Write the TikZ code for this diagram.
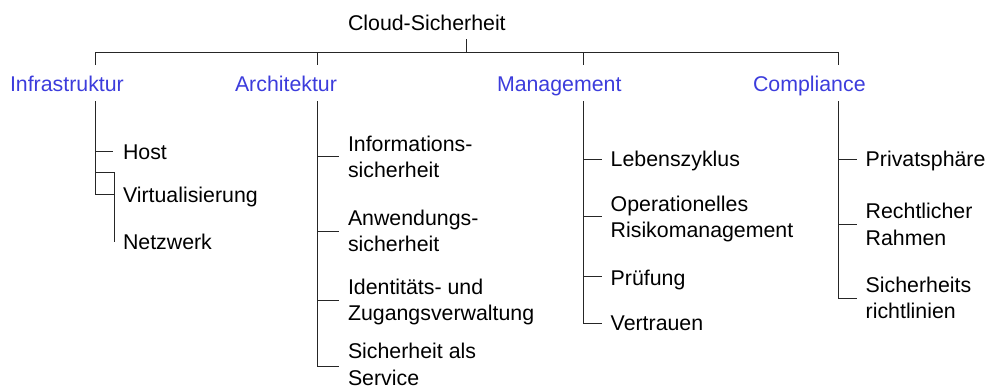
\documentclass[tikz,border=0pt]{standalone}
\usepackage{fontspec}
\setmainfont{Liberation Sans}
\definecolor{catblue}{RGB}{60,60,220}
\begin{document}
\begin{tikzpicture}[x=0.75pt,y=-0.75pt,
  every node/.style={inner sep=0pt, outer sep=0pt, anchor=base west,
    font=\fontsize{16}{19.9}\selectfont, align=left},
  cat/.style={text=catblue},
  conn/.style={line width=0.75pt, draw=black!85}]
\useasboundingbox (0,0) rectangle (989,389);

% root and categories
\node (root) at (348,30) {Cloud-Sicherheit};
\node[cat] (infra) at (10,91) {Infrastruktur};
\node[cat] (arch) at (235,91) {Architektur};
\node[cat] (mgmt) at (497,91) {Management};
\node[cat] (comp) at (753,91) {Compliance};

\coordinate (rootstem) at (466.7,39);
\coordinate (tI) at (95,101);
\coordinate (tA) at (317,101);
\coordinate (tM) at (583,101);
\coordinate (tC) at (838,101);

\draw[conn] (95,65) -- (95,52) -- (838,52) -- (838,65);
\draw[conn] (317,52) -- (317,65);
\draw[conn] (583,52) -- (583,65);
\draw[conn] (rootstem) -- (466.7,52);

% Infrastruktur
\node (host) at (123,159) {Host};
\node (virt) at (123,202.5) {Virtualisierung};
\node (netz) at (123,249.3) {Netzwerk};
\draw[conn] (tI) -- (95,194);
\draw[conn] (95,151) -- (113,151);
\draw[conn] (95,194) -- (114,194);
\draw[conn] (95,172) -- (114,172) -- (114,242);

% Architektur (base = last line)
\node (info) at (348,177.8) {Informations-\\sicherheit};
\node (anw) at (348,251.6) {Anwendungs-\\sicherheit};
\node (ident) at (348,320.6) {Identitäts- und\\Zugangsverwaltung};
\node (saas) at (348,385.3) {Sicherheit als\\Service};
\draw[conn] (tA) -- (317,366);
\draw[conn] (317,156.7) -- (339,156.7);
\draw[conn] (317,231) -- (339,231);
\draw[conn] (317,300) -- (339,300);
\draw[conn] (317,366) -- (339,366);

% Management
\node (leben) at (610.7,166) {Lebenszyklus};
\node (oper) at (610.7,237.8) {Operationelles\\Risikomanagement};
\node (pruef) at (610.7,285.7) {Prüfung};
\node (vertr) at (610.7,330.7) {Vertrauen};
\draw[conn] (tM) -- (583,323);
\draw[conn] (583,159) -- (601.7,159);
\draw[conn] (583,216.7) -- (601.7,216.7);
\draw[conn] (583,276.7) -- (601.7,276.7);
\draw[conn] (583,323) -- (601.7,323);

% Compliance
\node (priv) at (865.7,166) {Privatsphäre};
\node (recht) at (865.7,245.2) {Rechtlicher\\Rahmen};
\node (richt) at (865.7,318.8) {Sicherheits\\richtlinien};
\draw[conn] (tC) -- (838,298);
\draw[conn] (838,159) -- (856.7,159);
\draw[conn] (838,224) -- (856.7,224);
\draw[conn] (838,298) -- (856.7,298);
\end{tikzpicture}
\end{document}
